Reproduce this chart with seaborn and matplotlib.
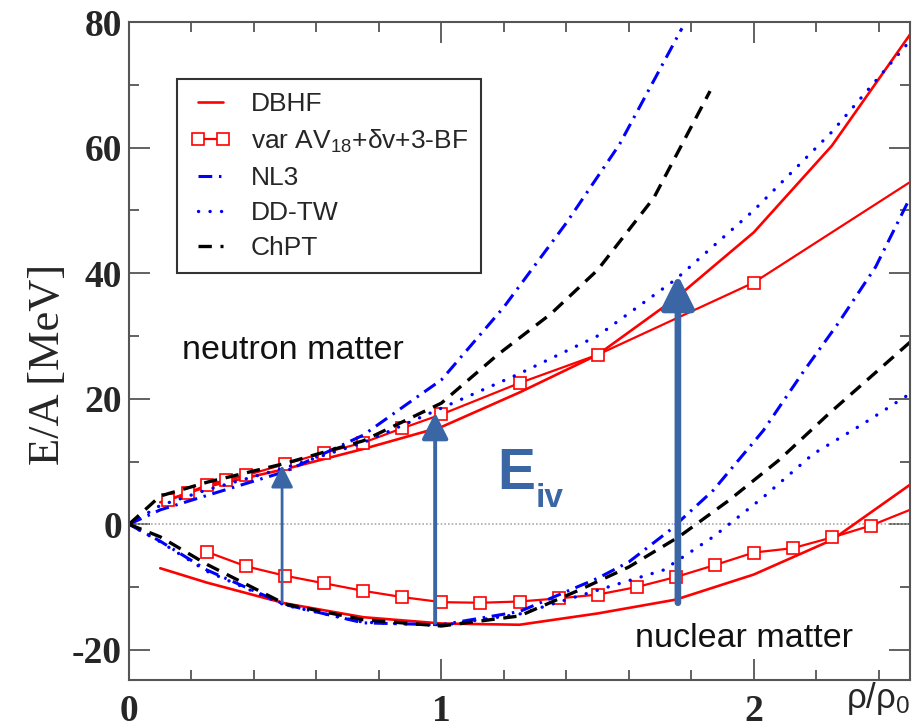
import matplotlib.pyplot as plt
import seaborn as sns

sns.set_style("ticks")
plt.rcParams['font.family'] = ['Liberation Sans', 'DejaVu Sans']
plt.rcParams['mathtext.fontset'] = 'custom'
plt.rcParams['mathtext.rm'] = 'Liberation Sans'
plt.rcParams['mathtext.it'] = 'Liberation Sans'
plt.rcParams['mathtext.bf'] = 'Liberation Sans:bold'
plt.rcParams['axes.unicode_minus'] = False

# neutron matter ---------------------------------------------------------
dbhf_n_x = [0.1, 0.25, 0.5, 0.75, 1.0, 1.25, 1.5, 1.75, 2.0, 2.25, 2.5]
dbhf_n_y = [3.5, 6.0, 8.8, 12.0, 15.5, 21.0, 27.0, 36.0, 46.5, 60.3, 78.0]

var_n_x = [0.125, 0.19, 0.25, 0.31, 0.375, 0.5, 0.625, 0.75, 0.875, 1.0, 1.25, 1.5, 2.0, 2.25, 2.5]
var_n_y = [3.8, 5.0, 6.3, 7.0, 7.8, 9.6, 11.4, 13.0, 15.3, 17.5, 22.5, 27.0, 38.5, 46.5, 54.5]

nl3_n_x = [0, 0.1, 0.25, 0.5, 0.75, 0.9, 1.0, 1.2, 1.4, 1.57, 1.77]
nl3_n_y = [0, 2.3, 4.6, 8.4, 14.2, 19.5, 23.0, 34.6, 48.0, 60.5, 79.0]

ddtw_n_x = [0, 0.1, 0.25, 0.5, 0.75, 1.0, 1.25, 1.5, 1.75, 2.0, 2.25, 2.5]
ddtw_n_y = [0, 3.0, 5.5, 9.0, 13.0, 18.5, 24.0, 30.0, 39.0, 50.0, 62.5, 77.0]

chpt_n_x = [0, 0.1, 0.25, 0.5, 0.75, 1.0, 1.18, 1.35, 1.5, 1.68, 1.86]
chpt_n_y = [0, 4.5, 6.7, 9.7, 13.3, 19.3, 27.0, 33.5, 40.5, 52.0, 69.0]

# nuclear matter ---------------------------------------------------------
dbhf_s_x = [0.1, 0.25, 0.5, 0.75, 1.0, 1.25, 1.5, 1.75, 2.0, 2.25, 2.5]
dbhf_s_y = [-7.0, -9.3, -12.6, -14.8, -15.8, -16.0, -14.2, -12.0, -8.0, -2.5, 6.3]

var_s_x = [0.25, 0.375, 0.5, 0.625, 0.75, 0.875, 1.0, 1.125, 1.25, 1.375, 1.5,
           1.625, 1.75, 1.875, 2.0, 2.125, 2.25, 2.375, 2.5]
var_s_y = [-4.4, -6.7, -8.2, -9.4, -10.6, -11.6, -12.4, -12.5, -12.3, -11.8, -11.2,
           -10.0, -8.4, -6.5, -4.5, -3.8, -2.1, -0.2, 2.3]

nl3_s_x = [0, 0.1, 0.25, 0.5, 0.75, 1.0, 1.25, 1.5, 1.6, 1.73, 1.87, 2.03, 2.16, 2.27, 2.39, 2.5]
nl3_s_y = [0, -2.7, -7.3, -12.8, -15.7, -16.0, -13.9, -8.6, -6.0, -1.0, 5.4, 14.9, 24.4, 32.0, 41.0, 52.0]

ddtw_s_x = [0, 0.1, 0.25, 0.5, 0.75, 1.0, 1.25, 1.5, 1.71, 1.87, 2.03, 2.19, 2.35, 2.5]
ddtw_s_y = [0, -2.8, -7.5, -12.9, -15.6, -16.1, -14.3, -10.5, -7.3, -2.0, 4.3, 11.2, 16.0, 20.8]

chpt_s_x = [0, 0.1, 0.25, 0.5, 0.75, 1.0, 1.25, 1.44, 1.6, 1.76, 1.92, 2.08, 2.24, 2.5]
chpt_s_y = [0, -2.0, -6.4, -12.7, -15.2, -16.2, -14.6, -10.5, -6.8, -2.0, 3.8, 10.2, 17.6, 29.0]

# E_iv arrows: x, bottom, tip
arrow_x = [0.49, 0.98, 1.757]
arrow_lo = [-12.4, -15.7, -12.5]
arrow_hi = [9.4, 17.8, 39.7]

# plot ---------------------------------------------------------------------
fig = plt.figure(figsize=(9.22, 7.28), dpi=100)
ax = fig.add_axes([129 / 922, 48 / 728, 781 / 922, 658 / 728])

red = '#ff0000'
blue = '#0000ff'
arrow_col = '#3a66a6'

styles = {
    'dbhf': dict(color=red, lw=1.9, linestyle='-'),
    'var': dict(color=red, lw=1.6, linestyle='-', marker='s', markersize=9,
                markerfacecolor='white', markeredgecolor=red, markeredgewidth=1.2),
    'nl3': dict(color=blue, lw=2.2, linestyle=(0, (4.5, 2.2, 0.8, 2.2))),
    'ddtw': dict(color=blue, lw=2.4, linestyle=(0, (0.05, 3.4)), dash_capstyle='round'),
    'chpt': dict(color='black', lw=2.4, linestyle=(0, (4.0, 2.6))),
}

ax.axhline(0, color='#aaaaaa', lw=1.2, linestyle=(0, (1, 1.2)), zorder=1)

sns.lineplot(x=dbhf_n_x, y=dbhf_n_y, ax=ax, label='DBHF', **styles['dbhf'])
sns.lineplot(x=var_n_x, y=var_n_y, ax=ax, label='var AV$_{18}$+δv+3-BF',
             markevery=list(range(len(var_n_x) - 2)), **styles['var'])
sns.lineplot(x=nl3_n_x, y=nl3_n_y, ax=ax, label='NL3', **styles['nl3'])
sns.lineplot(x=ddtw_n_x, y=ddtw_n_y, ax=ax, label='DD-TW', **styles['ddtw'])
sns.lineplot(x=chpt_n_x, y=chpt_n_y, ax=ax, label='ChPT', **styles['chpt'])

sns.lineplot(x=dbhf_s_x, y=dbhf_s_y, ax=ax, **styles['dbhf'])
sns.lineplot(x=var_s_x, y=var_s_y, ax=ax,
             markevery=list(range(len(var_s_x) - 1)), **styles['var'])
sns.lineplot(x=nl3_s_x, y=nl3_s_y, ax=ax, **styles['nl3'])
sns.lineplot(x=ddtw_s_x, y=ddtw_s_y, ax=ax, **styles['ddtw'])
sns.lineplot(x=chpt_s_x, y=chpt_s_y, ax=ax, **styles['chpt'])

# arrows
arrow_lw = [2.0, 2.8, 4.8]
arrow_ms = [15, 18, 22]
for x, lo, hi, lw, ms in zip(arrow_x, arrow_lo, arrow_hi, arrow_lw, arrow_ms):
    ax.annotate('', xy=(x, hi), xytext=(x, lo),
                arrowprops=dict(arrowstyle='-|>,head_width=0.45,head_length=0.9',
                                color=arrow_col, lw=lw, mutation_scale=ms,
                                shrinkA=0, shrinkB=0), zorder=5)

ax.text(1.18, 5.7, 'E', color=arrow_col, fontsize=41, fontweight='bold')
ax.text(1.302, 2.7, 'iv', color=arrow_col, fontsize=24, fontweight='bold')

ax.text(0.17, 26.3, 'neutron matter', fontsize=24.5, color='#111111')
ax.text(1.62, -19.5, 'nuclear matter', fontsize=24.5, color='#111111')

# axes
ax.set_xlim(0, 2.5)
ax.set_ylim(-24.8, 80)
ax.set_xticks([0, 1, 2])
ax.set_xticks([0.2 * i for i in range(13)], minor=True)
ax.set_yticks([-20, 0, 20, 40, 60, 80])
ax.set_yticks([-20 + 10 * i for i in range(11)], minor=True)
ax.tick_params(which='both', direction='in', top=True, right=True,
               color='#555555', width=1.3)
ax.tick_params(which='major', length=15)
ax.tick_params(which='minor', length=7.5)
ax.tick_params(axis='x', pad=10)
ax.tick_params(axis='y', pad=5)
for lab in ax.get_xticklabels() + ax.get_yticklabels():
    lab.set_fontfamily('Liberation Serif')
    lab.set_fontweight('bold')
    lab.set_fontsize(27)
for sp in ax.spines.values():
    sp.set_color('#555555')
    sp.set_linewidth(1.5)

ax.set_ylabel('E/A [MeV]', fontsize=32, family='Liberation Serif')
ax.yaxis.set_label_coords(-0.078, 0.48)
ax.text(2.5, -24.8, 'ρ/ρ$_0$', fontsize=25, ha='right', va='top',
        transform=ax.transData)

leg = ax.legend(loc='upper left', bbox_to_anchor=(0.061, 0.913), borderaxespad=0,
                fontsize=19, numpoints=2, handlelength=1.55, handletextpad=0.75,
                labelspacing=0.42, fancybox=False, framealpha=1, borderpad=0.5)
leg.get_frame().set_edgecolor('#333333')
leg.get_frame().set_linewidth(1.5)

plt.savefig('out.png', dpi=100)
